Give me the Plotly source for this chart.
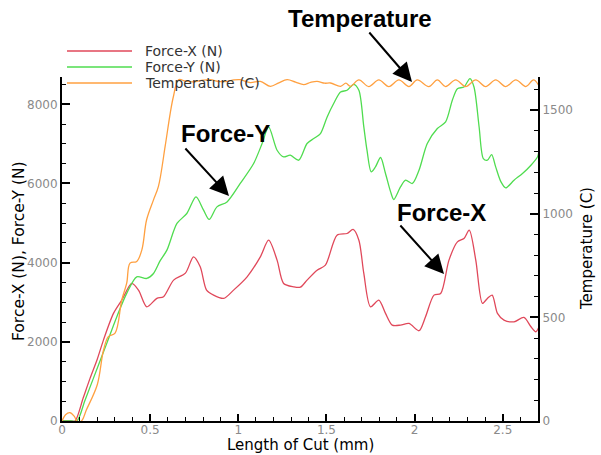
import plotly.graph_objects as go

# ---------------- data ----------------
fx_x = [0, 0.05, 0.074, 0.12, 0.159, 0.2, 0.235, 0.292, 0.339, 0.396, 0.434, 0.481, 0.538, 0.576,
        0.633, 0.70, 0.746, 0.784, 0.82, 0.86, 0.917, 0.973, 1.05, 1.125, 1.172, 1.22, 1.257,
        1.314, 1.352, 1.39, 1.447, 1.494, 1.56, 1.617, 1.651, 1.684, 1.712, 1.75, 1.797, 1.835,
        1.873, 1.92, 1.968, 2.025, 2.062, 2.11, 2.148, 2.195, 2.243, 2.28, 2.31, 2.347, 2.385,
        2.413, 2.44, 2.47, 2.507, 2.564, 2.62, 2.66, 2.688, 2.706]
fx_y = [0, 0, 0, 580, 1077, 1560, 2044, 2718, 3054, 3475, 3306, 2885, 3097, 3140,
        3559, 3735, 4147, 3895, 3306, 3180, 3097, 3306, 3643, 4147, 4568, 4064, 3475,
        3390, 3380, 3559, 3811, 3937, 4694, 4737, 4838, 4568, 3727, 2885, 3054, 2718,
        2423, 2423, 2466, 2280, 2633, 3180, 3222, 4064, 4526, 4610, 4821, 4064, 2971,
        3097, 3180, 2718, 2550, 2506, 2617, 2380, 2254, 2380]

fy_x = [0, 0.05, 0.085, 0.13, 0.178, 0.254, 0.311, 0.367, 0.424, 0.481, 0.519, 0.557, 0.595,
        0.652, 0.708, 0.76, 0.803, 0.835, 0.879, 0.936, 1.011, 1.087, 1.135, 1.172, 1.22,
        1.257, 1.295, 1.343, 1.39, 1.428, 1.466, 1.504, 1.541, 1.58, 1.617, 1.655, 1.684,
        1.712, 1.73, 1.754, 1.778, 1.807, 1.835, 1.864, 1.882, 1.92, 1.949, 1.987, 2.025,
        2.072, 2.129, 2.176, 2.214, 2.243, 2.28, 2.314, 2.337, 2.366, 2.39, 2.413, 2.437,
        2.46, 2.49, 2.517, 2.564, 2.612, 2.66, 2.697, 2.706]
fy_y = [0, 0, 0, 520, 1077, 1961, 2633, 3223, 3643, 3601, 3727, 4050, 4316,
        4990, 5242, 5661, 5326, 5091, 5409, 5535, 6000, 6504, 7009, 7428, 6840,
        6671, 6714, 6588, 7009, 7135, 7261, 7681, 8019, 8312, 8354, 8506, 8354,
        7428, 6840, 6292, 6419, 6656, 6252, 5788, 5596, 5914, 6083, 6000, 6335,
        7009, 7388, 7555, 8102, 8396, 8438, 8650, 8438, 7428, 6630, 6588, 6731,
        6419, 6040, 5889, 6083, 6252, 6462, 6671, 6840]

t_x = [0, 0.02, 0.045, 0.07, 0.085, 0.11, 0.138, 0.2, 0.235, 0.263, 0.301, 0.339, 0.367,
       0.386, 0.424, 0.453, 0.48, 0.519, 0.547, 0.585, 0.614, 0.632, 0.661, 0.70, 0.746,
       0.80, 0.841, 0.89, 0.936, 0.975, 1.011, 1.068, 1.125, 1.182, 1.23, 1.277, 1.325,
       1.371, 1.41, 1.447, 1.49, 1.523, 1.58, 1.61, 1.636, 1.684, 1.74, 1.797, 1.854,
       1.911, 1.968, 2.015, 2.081, 2.129, 2.176, 2.233, 2.29, 2.347, 2.403, 2.46, 2.517,
       2.574, 2.631, 2.675, 2.706]
t_y = [0, 30, 40, 22, 0, 0, 53, 175, 340, 407, 424, 584, 665,
       762, 770, 826, 971, 1067, 1132, 1325, 1486, 1566, 1647, 1640, 1637,
       1645, 1647, 1638, 1639, 1646, 1647, 1633, 1639, 1615, 1632, 1647, 1635,
       1623, 1634, 1639, 1630, 1631, 1615, 1630, 1615, 1646, 1614, 1646, 1614,
       1646, 1614, 1646, 1614, 1646, 1614, 1646, 1614, 1646, 1614, 1646, 1614,
       1646, 1614, 1646, 1616]

x_ticks = [0, 0.5, 1, 1.5, 2, 2.5]
x_ticklabels = ["0", "0.5", "1", "1.5", "2", "2.5"]
y_ticks = [0, 2000, 4000, 6000, 8000]
y_ticklabels = ["0", "2000", "4000", "6000", "8000"]
y2_ticks = [0, 500, 1000, 1500]
y2_ticklabels = ["0", "500", "1000", "1500"]

series_names = ["Force-X (N)", "Force-Y (N)", "Temperature (C)"]

# ---------------- style ----------------
RED = "#e0485a"
GREEN = "#4fdc4f"
ORANGE = "#ffa040"
FONT = "DejaVu Sans, Verdana, sans-serif"
BOLD = "Liberation Sans, Arial, sans-serif"
TICKC = "#8a8a8a"

W, H = 601, 455
L, R, T, B = 62, 63, 77, 34
PW, PH = W - L - R, H - T - B


def px2paper(px, py):
    return (px - L) / PW, (H - B - py) / PH


fig = go.Figure()
fig.add_trace(go.Scatter(x=fx_x, y=fx_y, mode="lines", name=series_names[0],
                         line=dict(color=RED, width=1.3, shape="spline", smoothing=0.8)))
fig.add_trace(go.Scatter(x=fy_x, y=fy_y, mode="lines", name=series_names[1],
                         line=dict(color=GREEN, width=1.3, shape="spline", smoothing=0.8)))
fig.add_trace(go.Scatter(x=t_x, y=t_y, mode="lines", name=series_names[2], yaxis="y2",
                         line=dict(color=ORANGE, width=1.3, shape="spline", smoothing=1.0)))

axis_common = dict(showline=True, linecolor="black", linewidth=2, ticks="inside",
                   tickwidth=2, tickcolor="black", showgrid=False, zeroline=False,
                   tickfont=dict(family=FONT, size=12, color=TICKC))

fig.update_layout(
    width=W, height=H,
    margin=dict(l=L, r=R, t=T, b=B, pad=0),
    paper_bgcolor="white", plot_bgcolor="white",
    showlegend=False,
    xaxis=dict(range=[0, 2.7], tickvals=x_ticks, ticktext=x_ticklabels, ticklen=7,
               ticklabelstandoff=-3,
               minor=dict(ticks="inside", dtick=0.1, ticklen=4, tickwidth=1, tickcolor="black"),
               **axis_common),
    yaxis=dict(range=[0, 8690], tickvals=y_ticks, ticktext=y_ticklabels, ticklen=8,
               minor=dict(ticks="inside", dtick=500, ticklen=4, tickwidth=1, tickcolor="black"),
               **axis_common),
    yaxis2=dict(range=[0, 1660], tickvals=y2_ticks, ticktext=y2_ticklabels, ticklen=8,
                overlaying="y", side="right",
                minor=dict(ticks="inside", dtick=100, ticklen=4, tickwidth=1, tickcolor="black"),
                **axis_common),
)

annos = []


def text_anno(px, py, text, size, family=FONT, color="black", angle=0, xanchor="center"):
    xa, ya = px2paper(px, py)
    return dict(x=xa, y=ya, xref="paper", yref="paper", text=text, textangle=angle,
                xanchor=xanchor, yanchor="middle", showarrow=False,
                font=dict(family=family, size=size, color=color))


# axis titles
annos.append(text_anno(300, 445, "Length of Cut (mm)", 15))
annos.append(text_anno(19, 251, "Force-X (N), Force-Y (N)", 15.5, angle=-90))
annos.append(text_anno(587, 249, "Temperature (C)", 15, angle=-90))

# custom legend
shapes = []
for i, (name, col) in enumerate(zip(series_names, [RED, GREEN, ORANGE])):
    ly = 51 + 16 * i
    xa, ya = px2paper(67, ly)
    xb, _ = px2paper(132, ly)
    shapes.append(dict(type="line", xref="paper", yref="paper", x0=xa, x1=xb, y0=ya, y1=ya,
                       line=dict(color=col, width=1.3)))
    annos.append(text_anno(143, ly, name, 14, color="#333333", xanchor="left"))

# labels with arrows
labels = [("Temperature", 360, 19, 368, 31, 412, 82),
          ("Force-Y", 225, 133, 184, 147, 229, 196),
          ("Force-X", 441, 212, 399, 224, 444, 274)]
for text, cx, cy, tx, ty, hx, hy in labels:
    annos.append(text_anno(cx, cy, "<b>%s</b>" % text, 24, family=BOLD))
    xh, yh = px2paper(hx, hy)
    annos.append(dict(x=xh, y=yh, xref="paper", yref="paper", text="", showarrow=True,
                      ax=tx - hx, ay=ty - hy, arrowhead=2, arrowsize=1.9, arrowwidth=2,
                      arrowcolor="black", standoff=0))

fig.update_layout(annotations=annos, shapes=shapes)
fig.write_html("out.html")
